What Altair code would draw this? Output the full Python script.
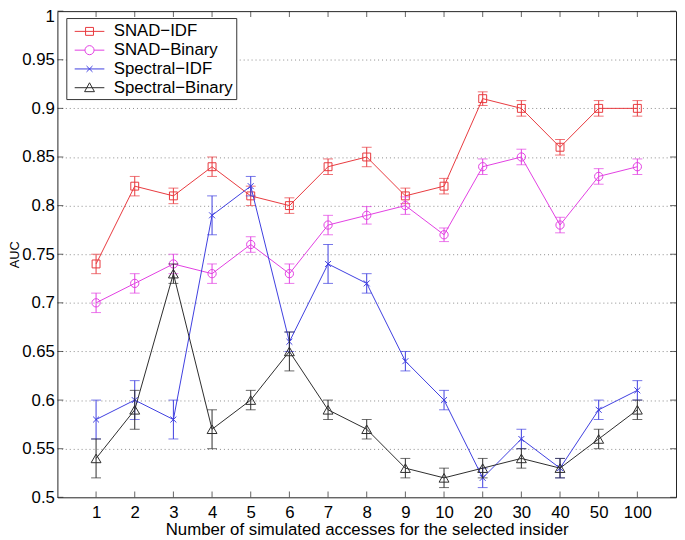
import altair as alt
import pandas as pd

categories = ["1", "2", "3", "4", "5", "6", "7", "8", "9", "10", "20", "30", "40", "50", "100"]
series_names = ["SNAD−IDF", "SNAD−Binary", "Spectral−IDF", "Spectral−Binary"]
series_colors = ["#e8383d", "#e23ee2", "#3d3de0", "#2b2b2b"]

snad_idf = [0.74, 0.82, 0.81, 0.84, 0.81, 0.80, 0.84, 0.85, 0.81, 0.82, 0.91, 0.90, 0.86, 0.90, 0.90]
snad_idf_err = [0.01, 0.01, 0.008, 0.01, 0.01, 0.008, 0.008, 0.01, 0.008, 0.008, 0.007, 0.008, 0.008, 0.008, 0.008]
snad_bin = [0.70, 0.72, 0.74, 0.73, 0.76, 0.73, 0.78, 0.79, 0.80, 0.77, 0.84, 0.85, 0.78, 0.83, 0.84]
snad_bin_err = [0.01, 0.01, 0.01, 0.01, 0.008, 0.01, 0.01, 0.009, 0.009, 0.007, 0.008, 0.008, 0.008, 0.008, 0.008]
spec_idf = [0.58, 0.60, 0.58, 0.79, 0.82, 0.66, 0.74, 0.72, 0.64, 0.60, 0.52, 0.56, 0.53, 0.59, 0.61]
spec_idf_err = [0.02, 0.02, 0.02, 0.02, 0.01, 0.01, 0.02, 0.01, 0.01, 0.01, 0.01, 0.01, 0.01, 0.01, 0.01]
spec_bin = [0.54, 0.59, 0.73, 0.57, 0.60, 0.65, 0.59, 0.57, 0.53, 0.52, 0.53, 0.54, 0.53, 0.56, 0.59]
spec_bin_err = [0.02, 0.02, 0.01, 0.02, 0.01, 0.02, 0.01, 0.01, 0.01, 0.01, 0.01, 0.01, 0.01, 0.01, 0.01]

y_ticks = [0.5, 0.55, 0.6, 0.65, 0.7, 0.75, 0.8, 0.85, 0.9, 0.95, 1.0]

# marker styles
marker_shapes = ["square", "circle", "M-1,-1L1,1M1,-1L-1,1", "triangle-up"]
marker_sizes = [64, 70, 36, 100]
legend_paths = [
    "M-0.5,0H2.5M0.6,-0.4H1.4V0.4H0.6Z",
    "M-0.5,0H0.54M1.46,0H2.5M1.46,0A0.46,0.46,0,1,1,0.54,0A0.46,0.46,0,1,1,1.46,0Z",
    "M-0.5,0H2.5M0.7,-0.3L1.3,0.3M1.3,-0.3L0.7,0.3",
    "M-0.5,0H2.5M1,-0.5L1.5,0.4L0.5,0.4Z",
]

rows = []
for name, vals, errs in zip(series_names, [snad_idf, snad_bin, spec_idf, spec_bin],
                            [snad_idf_err, snad_bin_err, spec_idf_err, spec_bin_err]):
    for i, (c, v, e) in enumerate(zip(categories, vals, errs)):
        rows.append(dict(series=name, cat=c, idx=i, value=v, lo=round(v - e, 4), hi=round(v + e, 4)))
df = pd.DataFrame(rows)
xt = pd.DataFrame({"cat": categories})
yt = pd.DataFrame({"value": y_ticks})

W, H = 626, 492
FONT = "Liberation Sans"
XTITLE = "Number of simulated accesses for the selected insider"

xscale = alt.Scale(type="point", domain=categories, padding=1)
yscale = alt.Scale(domain=[0.5, 1.0], nice=False, zero=False)

xaxis = alt.Axis(labelAngle=0, ticks=False, domain=False, grid=False, labelFontSize=17,
                 labelPadding=7, labelColor="black", titleFontSize=17, titleFontWeight="normal",
                 titleColor="black", titlePadding=2)
yaxis = alt.Axis(values=y_ticks, format=".2~f", grid=True, gridDash=[1, 3], gridColor="#8a8a8a",
                 gridOpacity={"condition": {"test": "datum.value <= 0.5 || datum.value >= 1", "value": 0}, "value": 1},
                 labelOffset={"condition": {"test": "datum.value >= 1", "value": 6}, "value": 0},
                 ticks=False, domain=False, labelFontSize=17, labelPadding=3, labelColor="black",
                 titleFontSize=13, titleFontWeight="normal", titleColor="black", titlePadding=0)

X = alt.X("cat:O", scale=xscale, axis=xaxis, title=XTITLE)
Y = alt.Y("value:Q", scale=yscale, axis=yaxis, title="AUC")
Ylo = alt.Y("lo:Q", scale=yscale, axis=yaxis, title="AUC")
Yhi = alt.Y("hi:Q", scale=yscale, axis=yaxis, title="AUC")

base = alt.Chart(df)

series_layers = []
for name, col, shp, sz in zip(series_names, series_colors, marker_shapes, marker_sizes):
    sb = base.transform_filter(alt.datum.series == name)
    series_layers += [
        sb.mark_line(strokeWidth=1, color=col).encode(x=X, y=Y, order=alt.Order("idx:Q")),
        sb.mark_rule(strokeWidth=1, color=col).encode(x=X, y=Ylo, y2="hi:Q"),
        sb.mark_tick(orient="horizontal", size=10, thickness=1, color=col).encode(x=X, y=Ylo),
        sb.mark_tick(orient="horizontal", size=10, thickness=1, color=col).encode(x=X, y=Yhi),
        sb.mark_point(filled=False, shape=shp, size=sz, strokeWidth=1, opacity=1, color=col).encode(x=X, y=Y),
    ]

leg = alt.Legend(title=None, orient="none", legendX=9, legendY=7, fillColor="white",
                 strokeColor="#333", padding=3, symbolSize=400, symbolStrokeWidth=1,
                 symbolOpacity=1, labelFontSize=17, labelFont=FONT, labelColor="black",
                 labelOffset=24, rowPadding=0, labelLimit=400,
                 labelExpr="datum.label + '\u00a0'")

legend_layer = base.mark_point(filled=False, strokeWidth=1, opacity=0).encode(
    x=X, y=Y,
    stroke=alt.Stroke("series:N", scale=alt.Scale(domain=series_names, range=series_colors), legend=leg),
    shape=alt.Shape("series:N", scale=alt.Scale(domain=series_names, range=legend_paths), legend=leg),
)

tick_bottom = alt.Chart(xt).mark_tick(orient="vertical", size=6, thickness=1, color="#222", yOffset=-3).encode(
    x=X, y=alt.value(H))
tick_top = alt.Chart(xt).mark_tick(orient="vertical", size=6, thickness=1, color="#222", yOffset=3).encode(
    x=X, y=alt.value(0))
tick_left = alt.Chart(yt).mark_tick(orient="horizontal", size=6, thickness=1, color="#222", xOffset=3).encode(
    y=Y, x=alt.value(0))
tick_right = alt.Chart(yt).mark_tick(orient="horizontal", size=6, thickness=1, color="#222", xOffset=-3).encode(
    y=Y, x=alt.value(W))

chart = alt.layer(
    tick_bottom, tick_top, tick_left, tick_right, *series_layers, legend_layer
).properties(
    width=W, height=H,
    autosize=alt.AutoSizeParams(type="none"),
    padding={"left": 50, "top": 0, "right": 1, "bottom": 38},
).configure(
    font=FONT,
).configure_view(
    stroke="#222", strokeWidth=1
)

chart.save("out.html", embed_options={"renderer": "svg", "actions": False})
